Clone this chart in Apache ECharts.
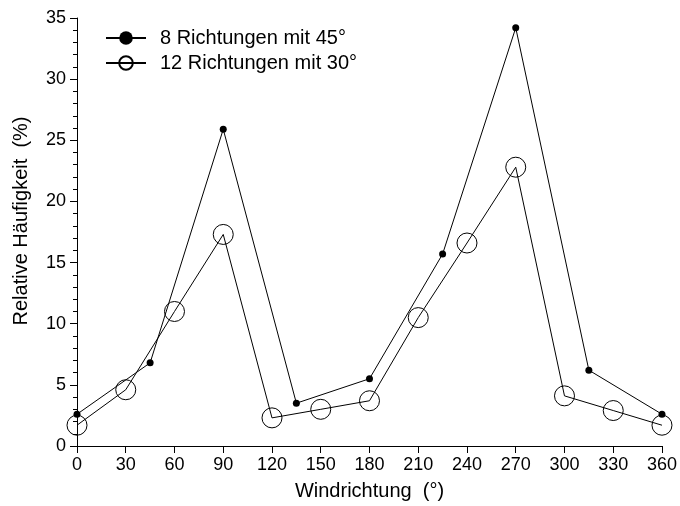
<!DOCTYPE html>
<html>
<head>
<meta charset="utf-8">
<script src="https://cdn.jsdelivr.net/npm/echarts@6/dist/echarts.min.js"></script>
<style>
  html, body { margin: 0; padding: 0; background: #fff; }
  #main { width: 680px; height: 506px; }
</style>
</head>
<body>
<div id="main"></div>
<script>
// Windrichtung (°) und relative Häufigkeit (%)
var dir8 = [0, 45, 90, 135, 180, 225, 270, 315, 360];
var val8 = [2.6, 6.8, 25.9, 3.5, 5.5, 15.7, 34.2, 6.2, 2.6];
var dir12 = [0, 30, 60, 90, 120, 150, 180, 210, 240, 270, 300, 330, 360];
var val12 = [1.7, 4.6, 11.0, 17.3, 2.3, 3.0, 3.7, 10.5, 16.6, 22.8, 4.1, 2.9, 1.7];
var seriesNames = ["8 Richtungen mit 45°", "12 Richtungen mit 30°"];

function pairs(xs, ys) {
  return xs.map(function (x, i) { return [x, ys[i]]; });
}

var font = "Liberation Sans, Arial, sans-serif";
var myChart = echarts.init(document.getElementById("main"));

myChart.setOption({
  animation: false,
  backgroundColor: "#fff",
  textStyle: { fontFamily: font, color: "#000" },
  grid: { left: 77, right: 17, top: 18, bottom: 58 },
  legend: {
    left: 100,
    top: 23,
    orient: "vertical",
    itemGap: 5,
    itemWidth: 40,
    itemHeight: 17,
    textStyle: { fontSize: 20, color: "#000", fontFamily: font, padding: [0, 0, 0, 9] },
    data: seriesNames
  },
  xAxis: {
    type: "value",
    min: 0,
    max: 360,
    interval: 30,
    name: "Windrichtung  (°)",
    nameLocation: "middle",
    nameGap: 35,
    nameTextStyle: { fontSize: 20, color: "#000" },
    axisLine: { lineStyle: { color: "#000", width: 1 } },
    axisTick: { length: 7, lineStyle: { color: "#000" } },
    axisLabel: { fontSize: 18, color: "#000", margin: 10 },
    splitLine: { show: false }
  },
  yAxis: {
    type: "value",
    min: 0,
    max: 35,
    interval: 5,
    name: "Relative Häufigkeit  (%)",
    nameLocation: "middle",
    nameGap: 46,
    nameTextStyle: { fontSize: 20, color: "#000", padding: [0, 0, 0, 22] },
    axisLine: { show: true, lineStyle: { color: "#000", width: 1 } },
    axisTick: { show: true, length: 7, lineStyle: { color: "#000" } },
    minorTick: { show: true, splitNumber: 5, length: 4, lineStyle: { color: "#000" } },
    axisLabel: { fontSize: 18, color: "#000", margin: 11 },
    splitLine: { show: false }
  },
  series: [
    {
      name: seriesNames[0],
      type: "line",
      data: pairs(dir8, val8),
      symbol: "circle",
      symbolSize: 7,
      lineStyle: { color: "#000", width: 1 },
      itemStyle: { color: "#000" },
      z: 3
    },
    {
      name: seriesNames[1],
      type: "line",
      data: pairs(dir12, val12),
      symbol: "circle",
      symbolSize: 20,
      lineStyle: { color: "#000", width: 1 },
      itemStyle: { color: "rgba(255,255,255,0)", borderColor: "#000", borderWidth: 1 },
      z: 2
    }
  ]
});
</script>
</body>
</html>
